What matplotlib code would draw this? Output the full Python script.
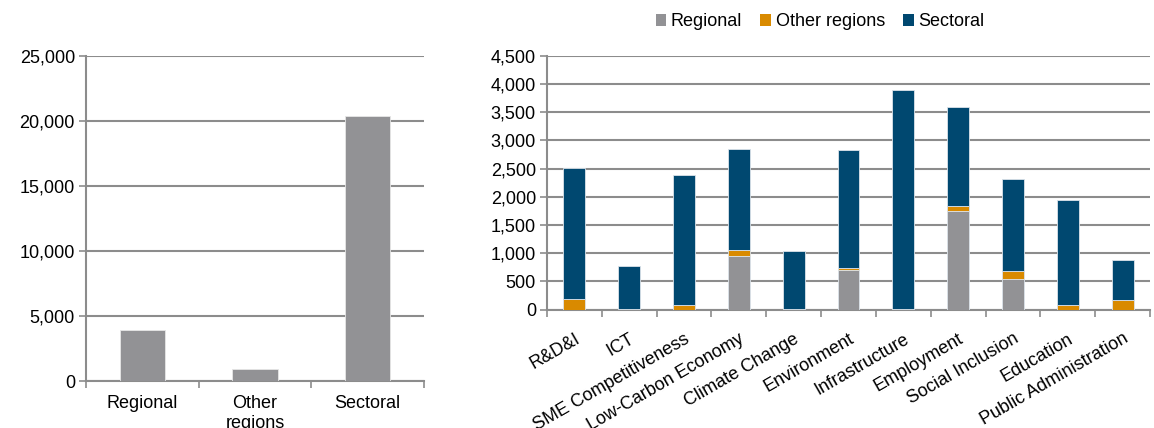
import matplotlib
matplotlib.use("Agg")
import matplotlib.pyplot as plt
import numpy as np
from matplotlib.ticker import FuncFormatter, FixedLocator
from matplotlib.patches import Patch

plt.rcParams['font.family'] = ['Liberation Sans', 'DejaVu Sans']

# Left chart data
left_cats = ["Regional", "Other\nregions", "Sectoral"]
left_vals = [3950, 900, 20400]

# Right chart data
themes = ["R&D&I", "ICT", "SME Competitiveness", "Low-Carbon Economy", "Climate Change",
          "Environment", "Infrastructure", "Employment", "Social Inclusion", "Education",
          "Public Administration"]
regional = [0, 0, 0, 950, 0, 700, 0, 1740, 550, 0, 0]
other_regions = [190, 10, 75, 110, 5, 40, 5, 105, 140, 80, 160]
sectoral = [2330, 770, 2305, 1790, 1035, 2100, 3895, 1755, 1620, 1870, 710]
series_names = ["Regional", "Other regions", "Sectoral"]

GRAY = "#929295"
ORANGE = "#D98A00"
NAVY = "#004870"
GRID = "#8c8c8c"
FS = 13

fig = plt.figure(figsize=(11.54, 4.28), dpi=100)
W, H = 1154, 428

def ax_at(x0, y0, x1, y1):
    return fig.add_axes([x0 / W, 1 - y1 / H, (x1 - x0) / W, (y1 - y0) / H])

fmt = FuncFormatter(lambda v, p: f"{int(v):,}")

def style(ax, n, ymax, step):
    ax.set_xlim(-0.5, n - 0.5)
    ax.set_ylim(0, ymax)
    ax.set_yticks(np.arange(0, ymax + 1, step))
    ax.yaxis.set_major_formatter(fmt)
    ax.grid(axis='y', color=GRID, linewidth=1.5, zorder=0)
    ax.set_axisbelow(True)
    for s in ['top', 'right']:
        ax.spines[s].set_visible(False)
    for s in ['left', 'bottom']:
        ax.spines[s].set_color(GRID)
        ax.spines[s].set_linewidth(1.5)
    ax.tick_params(axis='y', length=5, color=GRID, width=1.2, labelsize=FS, pad=3)
    ax.xaxis.set_major_locator(FixedLocator(np.arange(-0.5, n, 1.0)))
    ax.xaxis.set_minor_locator(FixedLocator(np.arange(n)))
    ax.tick_params(axis='x', which='major', length=5, color=GRID, width=1.2, labelbottom=False)
    ax.tick_params(axis='x', which='minor', length=0, labelsize=FS, pad=10)

# Left chart
axL = ax_at(86, 56, 424, 381)
xl = np.arange(len(left_cats))
axL.bar(xl, left_vals, width=0.4, color=GRAY, edgecolor="#e6e6e6", linewidth=0.6, zorder=3)
style(axL, len(left_cats), 25000, 5000)
axL.set_xticks(xl, minor=True)
axL.set_xticklabels(left_cats, minor=True, linespacing=1.25)

# Right chart
axR = ax_at(547, 56, 1150, 309.5)
xr = np.arange(len(themes))
b0 = np.zeros(len(themes))
for vals, col, name in zip([regional, other_regions, sectoral], [GRAY, ORANGE, NAVY], series_names):
    axR.bar(xr, vals, width=0.4, bottom=b0, color=col, edgecolor="#dce3ea", linewidth=0.6,
            zorder=3, label=name)
    b0 = b0 + np.array(vals)
style(axR, len(themes), 4500, 500)
axR.set_xticks(xr, minor=True)
axR.set_xticklabels(themes, minor=True, rotation=30, ha='right', rotation_mode='anchor')
axR.tick_params(axis='x', which='minor', pad=15)

handles = [Patch(facecolor=c, edgecolor='none') for c in [GRAY, ORANGE, NAVY]]
fig.legend(handles, series_names, loc='center', bbox_to_anchor=(820 / W, 1 - 22 / H),
           ncol=3, frameon=False, fontsize=FS, handlelength=0.6, handleheight=0.6,
           handletextpad=0.25, columnspacing=1.0)

fig.savefig("out.png", dpi=100)
